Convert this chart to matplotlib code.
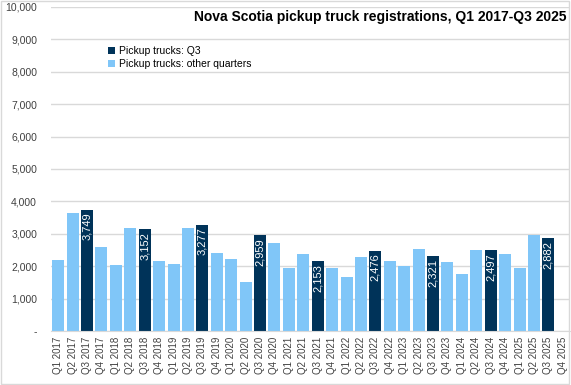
import matplotlib.pyplot as plt
import numpy as np
from matplotlib.ticker import FuncFormatter
from matplotlib.patches import Rectangle

plt.rcParams['font.family'] = ['Liberation Sans', 'DejaVu Sans']

quarters = [f"Q{q} {y}" for y in range(2017, 2026) for q in range(1, 5)]
values = [2200, 3650, 3749, 2600,
          2040, 3180, 3152, 2160,
          2070, 3180, 3277, 2410,
          2230, 1520, 2959, 2720,
          1950, 2380, 2153, 1950,
          1670, 2290, 2476, 2160,
          2010, 2530, 2321, 2130,
          1760, 2500, 2497, 2380,
          1950, 2970, 2882, np.nan]

dark = "#003359"
light = "#80C6F8"

fig = plt.figure(figsize=(5.71, 3.85), dpi=100)
ax = fig.add_axes([51 / 571, 1 - 331 / 385, (570 - 51) / 571, (331 - 7) / 385])

x = np.arange(len(quarters))
is_q3 = np.array([q.startswith("Q3") for q in quarters])
vals = np.array(values, dtype=float)

ax.bar(x[~is_q3], vals[~is_q3], width=0.83, color=light, label="Pickup trucks: other quarters", zorder=2)
bars_q3 = ax.bar(x[is_q3], vals[is_q3], width=0.83, color=dark, label="Pickup trucks: Q3", zorder=2)

for b, v in zip(bars_q3, vals[is_q3]):
    if np.isnan(v):
        continue
    ax.text(b.get_x() + b.get_width() / 2, v - 90, f"{v:,.0f}", rotation=90,
            ha="center", va="top", color="white", fontsize=8, zorder=3)

ax.set_xlim(-0.5, len(quarters) - 0.5)
ax.set_ylim(0, 10000)
ax.set_yticks(range(0, 10001, 1000))
ax.yaxis.set_major_formatter(FuncFormatter(lambda v, p: "-" if v == 0 else f"{v:,.0f}"))
ax.set_xticks(x)
ax.set_xticklabels(quarters, rotation=90, fontsize=7, color="#404040")
ax.tick_params(axis="y", length=0, labelsize=7.5, labelcolor="#404040", pad=10)
ax.tick_params(axis="x", length=0, pad=4)
ax.grid(axis="y", color="#D9D9D9", linewidth=1, zorder=0)
for s in ["top", "right", "left"]:
    ax.spines[s].set_visible(False)
ax.spines["bottom"].set_color("#D9D9D9")

handles, labels = ax.get_legend_handles_labels()
ax.legend(handles[::-1], labels[::-1], loc="upper left", bbox_to_anchor=(104 / 571, 1 - 42 / 385),
          bbox_transform=fig.transFigure, frameon=False, fontsize=7.5, handlelength=0.7,
          handleheight=0.7, handletextpad=0.3, labelspacing=0.3, borderaxespad=0)

fig.text(567 / 571, 1 - 17 / 385, "Nova Scotia pickup truck registrations, Q1 2017-Q3 2025",
         ha="right", va="center", fontsize=10, fontweight="bold", color="#000000")

fig.patches.append(Rectangle((0.002, 0.002), 0.995, 0.995, transform=fig.transFigure,
                             fill=False, edgecolor="#D9D9D9", linewidth=1))

fig.savefig("out.png", dpi=100)
